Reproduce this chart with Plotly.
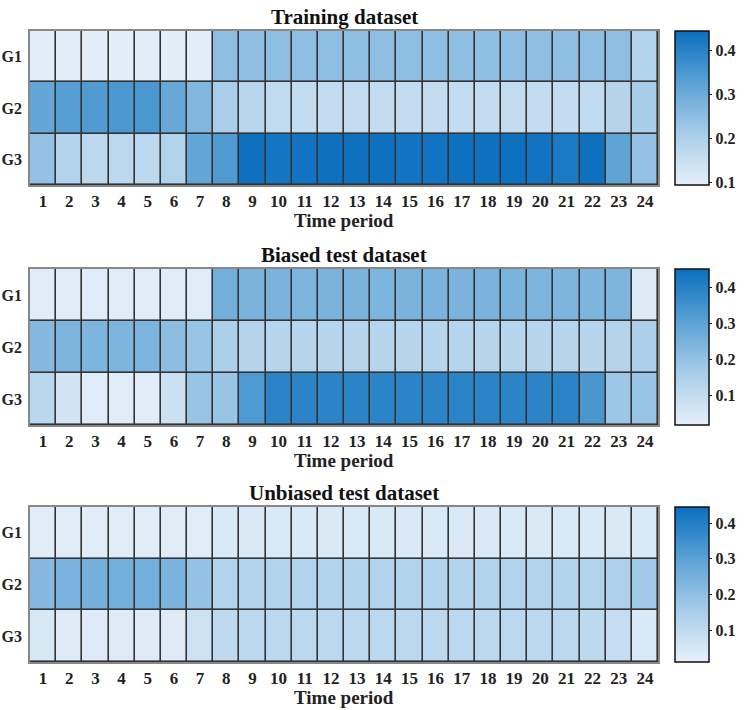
import plotly.graph_objects as go

periods = list(range(1, 25))
groups = ["G1", "G2", "G3"]

train_g1 = [0.10, 0.10, 0.10, 0.10, 0.10, 0.10, 0.10, 0.25, 0.25, 0.25, 0.25, 0.25,
            0.25, 0.25, 0.25, 0.25, 0.25, 0.25, 0.25, 0.25, 0.25, 0.25, 0.25, 0.195]
train_g2 = [0.315, 0.334, 0.343, 0.35, 0.35, 0.31, 0.27, 0.207, 0.18, 0.165, 0.16, 0.16,
            0.16, 0.16, 0.16, 0.16, 0.16, 0.16, 0.16, 0.16, 0.16, 0.165, 0.186, 0.21]
train_g3 = [0.24, 0.19, 0.175, 0.175, 0.175, 0.195, 0.315, 0.345, 0.44, 0.43, 0.435, 0.44,
            0.44, 0.44, 0.435, 0.435, 0.44, 0.44, 0.44, 0.435, 0.42, 0.44, 0.32, 0.24]

biased_g1 = [0.03, 0.03, 0.03, 0.03, 0.03, 0.03, 0.03, 0.26, 0.245, 0.245, 0.24, 0.245,
             0.245, 0.24, 0.245, 0.245, 0.245, 0.245, 0.245, 0.24, 0.24, 0.24, 0.24, 0.04]
biased_g2 = [0.225, 0.24, 0.24, 0.24, 0.24, 0.21, 0.19, 0.15, 0.13, 0.125, 0.125, 0.125,
             0.125, 0.125, 0.125, 0.125, 0.125, 0.125, 0.125, 0.125, 0.125, 0.125, 0.13, 0.15]
biased_g3 = [0.12, 0.06, 0.03, 0.03, 0.03, 0.08, 0.19, 0.19, 0.33, 0.39, 0.39, 0.39,
             0.39, 0.39, 0.39, 0.39, 0.39, 0.39, 0.39, 0.39, 0.39, 0.335, 0.18, 0.19]

unbiased_g1 = [0.025, 0.025, 0.025, 0.025, 0.025, 0.025, 0.025, 0.04, 0.04, 0.04, 0.04, 0.04,
               0.04, 0.04, 0.04, 0.04, 0.04, 0.04, 0.04, 0.04, 0.04, 0.04, 0.04, 0.04]
unbiased_g2 = [0.22, 0.24, 0.255, 0.255, 0.255, 0.24, 0.19, 0.13, 0.13, 0.13, 0.13, 0.13,
               0.13, 0.13, 0.13, 0.13, 0.13, 0.13, 0.13, 0.13, 0.13, 0.135, 0.14, 0.17]
unbiased_g3 = [0.045, 0.03, 0.03, 0.03, 0.03, 0.03, 0.07, 0.10, 0.11, 0.11, 0.11, 0.11,
               0.11, 0.11, 0.11, 0.11, 0.11, 0.11, 0.11, 0.11, 0.11, 0.105, 0.09, 0.04]

titles = ["Training dataset", "Biased test dataset", "Unbiased test dataset"]
cb_ticks = [0.1, 0.2, 0.3, 0.4]
ranges = [(0.095, 0.445), (0.017, 0.45), (0.011, 0.445)]

data = [
    [train_g1, train_g2, train_g3],
    [biased_g1, biased_g2, biased_g3],
    [unbiased_g1, unbiased_g2, unbiased_g3],
]

W, H = 747, 710
colorscale = [[0.0, "#E6F0F9"], [0.33, "#A8CDE9"], [0.66, "#5CA2D5"], [1.0, "#0A6FBF"]]
FONT = "Liberation Serif"

# pixel geometry (top, bottom) of each panel
panels_px = [(31, 185), (269, 425), (507, 662)]
x_left, x_right = 30, 658
cb_left, cb_thick = 675, 34

fig = go.Figure()
for i, (z, (top, bot)) in enumerate(zip(data, panels_px)):
    n = "" if i == 0 else str(i + 1)
    y0 = 1 - bot / H
    y1 = 1 - top / H
    fig.add_trace(go.Heatmap(
        z=z, x=periods, y=groups,
        xaxis="x" + n, yaxis="y" + n,
        coloraxis="coloraxis" + n,
        xgap=1.6, ygap=1.6,
        hoverongaps=False,
    ))
    fig.update_layout(**{
        "xaxis" + n: dict(
            domain=[x_left / W, x_right / W], anchor="y" + n,
            tickmode="array", tickvals=periods, ticktext=[str(p) for p in periods],
            showgrid=False, zeroline=False, ticks="", range=[0.5, 24.5],
            showline=True, mirror=True, linecolor="#888", linewidth=1.5,
            tickfont=dict(family=FONT, size=17, color="#222", weight="bold"),
        ),
        "yaxis" + n: dict(
            domain=[y0, y1], anchor="x" + n,
            autorange="reversed", showgrid=False, zeroline=False, ticks="",
            showline=True, mirror=True, linecolor="#888", linewidth=1.5,
            tickfont=dict(family=FONT, size=16, color="#222", weight="bold"),
            ticklabelstandoff=3,
        ),
        "coloraxis" + n: dict(
            colorscale=colorscale, cmin=ranges[i][0], cmax=ranges[i][1],
            colorbar=dict(
                x=cb_left / W, xanchor="left", xpad=0, ypad=0,
                y=(y0 + y1) / 2, yanchor="middle", len=(y1 - y0), lenmode="fraction",
                thickness=cb_thick, outlinecolor="#111", outlinewidth=1.5,
                tickvals=cb_ticks, ticktext=[f"{t:.1f}" for t in cb_ticks],
                ticks="outside", ticklen=3, tickcolor="#111",
                tickfont=dict(family=FONT, size=16, color="#222", weight="bold"),
            ),
        ),
    })
    fig.add_annotation(
        text=titles[i], xref="paper", yref="paper",
        x=(x_left + x_right) / 2 / W, y=1 - (top - 14) / H,
        xanchor="center", yanchor="middle", showarrow=False,
        font=dict(family=FONT, size=21, color="#111", weight="bold"),
    )
    fig.add_annotation(
        text="Time period", xref="paper", yref="paper",
        x=(x_left + x_right) / 2 / W, y=1 - (bot + 35) / H,
        xanchor="center", yanchor="middle", showarrow=False,
        font=dict(family=FONT, size=19, color="#222", weight="bold"),
    )

fig.update_layout(
    width=W, height=H,
    margin=dict(l=0, r=0, t=0, b=0),
    paper_bgcolor="white", plot_bgcolor="#333333",
    showlegend=False,
)

fig.write_html(
    "out.html",
    config={"displayModeBar": False},
    post_script="document.body.style.margin='0';document.body.style.padding='0';",
)
